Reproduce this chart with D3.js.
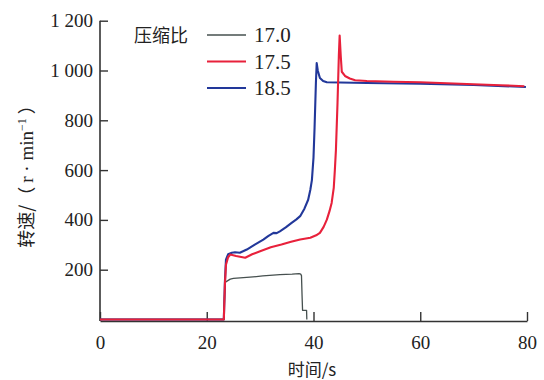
<!DOCTYPE html>
<html lang="zh">
<head>
<meta charset="utf-8">
<title>转速</title>
<script src="https://d3js.org/d3.v7.min.js"></script>
<style>
  body { margin: 0; background: #fff; }
  text { fill: #222; }
</style>
</head>
<body>
<svg width="544" height="380" id="svg"></svg>
<script>
// time (s) and speed (r/min)
var t170 = [0, 23.2, 23.35, 23.5, 24.4, 25.0, 28.1, 30.5, 33.7, 36.0, 37.3, 37.6, 37.75, 37.85, 37.95, 38.7, 38.75];
var v170 = [0, 0, 100, 150, 162, 165, 170, 175, 180, 182, 184, 182, 176, 100, 37, 37, 0];

var t175 = [0, 23.2, 23.4, 23.6, 24.0, 24.4, 25.5, 27.2, 28.5, 30, 32, 34, 35.8, 37.5, 39.4, 40.5, 41.2, 41.9, 42.5, 43.0, 43.4, 43.8, 44.0, 44.2, 44.5, 44.75, 44.9, 45.1, 45.3, 45.9, 46.8, 47.8, 50, 55, 60, 65, 70, 75, 79.5];
var v175 = [0, 0, 140, 220, 250, 261, 255, 248, 262, 274, 290, 301, 312, 321, 328, 338, 348, 372, 401, 435, 468, 530, 600, 680, 870, 1060, 1140, 1060, 995, 978, 968, 961, 958, 955, 953, 949, 945, 941, 937];

var t185 = [0, 23.2, 23.4, 23.6, 24.0, 24.7, 25.3, 26.2, 27.5, 29.0, 30.6, 31.5, 32.5, 33.1, 33.7, 34.8, 35.9, 36.8, 37.5, 38.3, 39.0, 39.4, 39.7, 40.0, 40.2, 40.45, 40.6, 40.8, 41.2, 41.8, 42.5, 50, 60, 70, 79.8];
var v185 = [0, 0, 150, 240, 262, 268, 270, 268, 281, 301, 321, 335, 348, 347, 354, 370, 388, 402, 415, 445, 481, 520, 560, 650, 770, 950, 1030, 1000, 970, 958, 953, 950, 947, 942, 934];

var seriesNames = ["17.0", "17.5", "18.5"];
var seriesColors = ["#46504f", "#e8213b", "#22389a"];
var xTicks = [0, 20, 40, 60, 80];
var yTicks = [200, 400, 600, 800, 1000, 1200];

var svg = d3.select("#svg");
var serif = "'Liberation Serif', 'DejaVu Serif', serif";
var cjk = "'Noto Sans CJK SC', sans-serif";

var x = d3.scaleLinear().domain([0, 80]).range([100, 527]);
var y = d3.scaleLinear().domain([0, 1200]).range([319.5, 20.7]);

var fmt = d3.formatLocale({decimal: ".", thousands: " ", grouping: [3], currency: ["", ""]}).format(",");

// axes, ticks pointing inward
var gx = svg.append("g")
    .attr("transform", "translate(0," + (y(0) + 1.5) + ")")
    .call(d3.axisBottom(x).tickValues(xTicks).tickSize(-9).tickSizeOuter(0).tickPadding(15));
var gy = svg.append("g")
    .attr("transform", "translate(" + x(0) + ",0)")
    .call(d3.axisLeft(y).tickValues(yTicks).tickFormat(fmt).tickSize(-8).tickSizeOuter(0).tickPadding(7));

svg.selectAll(".domain").attr("stroke", "#333").attr("stroke-width", 1.6);
svg.selectAll(".tick line").attr("stroke", "#333").attr("stroke-width", 1.4);
svg.selectAll(".tick text").attr("font-family", serif).attr("font-size", 19).attr("fill", "#222");
gy.select(".domain").attr("d", "M0," + (y(0) + 1.5) + "V" + y(1200));

var line = d3.line()
    .x(function(d) { return x(d[0]); })
    .y(function(d) { return y(d[1]); });

var data = [d3.zip(t170, v170), d3.zip(t175, v175), d3.zip(t185, v185)];
var widths = [1.3, 2.1, 2.1];

// gray under, then blue, red on top at zero
var order = [0, 2, 1];
order.forEach(function(i) {
  svg.append("path")
    .datum(data[i])
    .attr("d", line)
    .attr("fill", "none")
    .attr("stroke", seriesColors[i])
    .attr("stroke-width", widths[i])
    .attr("stroke-linejoin", "round");
});

// legend
svg.append("text")
  .attr("x", 134).attr("y", 42)
  .attr("font-family", cjk).attr("font-size", 18).attr("fill", "#333")
  .text("压缩比");

var leg = svg.selectAll(".leg").data(seriesNames).enter().append("g")
  .attr("transform", function(d, i) { return "translate(0," + (35 + i * 26.5) + ")"; });
leg.append("line")
  .attr("x1", 207).attr("x2", 246).attr("y1", 0).attr("y2", 0)
  .attr("stroke", function(d, i) { return seriesColors[i]; })
  .attr("stroke-width", function(d, i) { return i == 0 ? 1.5 : 2.2; });
leg.append("text")
  .attr("x", 254).attr("y", 7)
  .attr("font-family", serif).attr("font-size", 21)
  .text(function(d) { return d; });

// axis titles
svg.append("text")
  .attr("x", 312).attr("y", 376)
  .attr("text-anchor", "middle")
  .attr("font-family", cjk).attr("font-size", 17).attr("fill", "#333")
  .text("时间/s");

var yt = svg.append("text")
  .attr("transform", "translate(33,172) rotate(-90)")
  .attr("text-anchor", "middle")
  .attr("font-family", cjk).attr("font-size", 18).attr("fill", "#333");
yt.append("tspan").text("转速/（ ");
yt.append("tspan").attr("font-family", serif).attr("font-size", 19).text("r · min");
yt.append("tspan").attr("font-family", serif).attr("font-size", 12).attr("dy", -7).text("−1");
yt.append("tspan").attr("dy", 7).text(" ）");
</script>
</body>
</html>
